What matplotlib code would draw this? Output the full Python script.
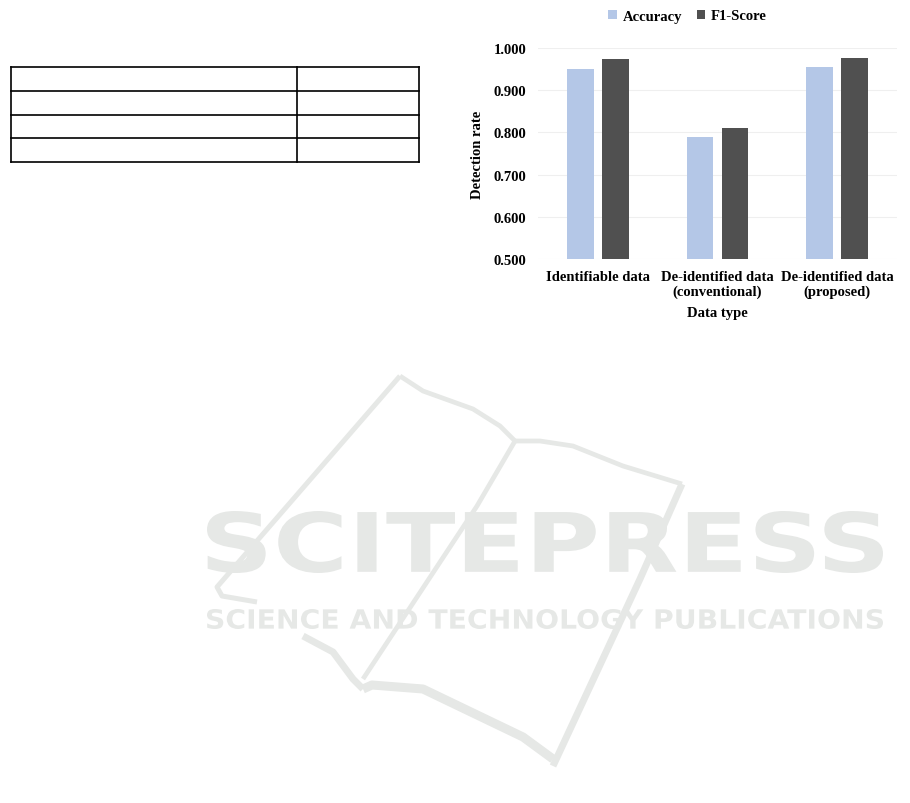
import matplotlib.pyplot as plt
import numpy as np
from matplotlib.textpath import TextPath
from matplotlib.patches import PathPatch
from matplotlib.font_manager import FontProperties
from matplotlib.transforms import Affine2D
import matplotlib.patheffects as pe

categories = ['Identifiable data', 'De-identified data\n(conventional)', 'De-identified data\n(proposed)']
accuracy = [0.950, 0.789, 0.955]
f1_score = [0.975, 0.811, 0.976]
series_names = ['Accuracy', 'F1-Score']
y_ticks = [0.5, 0.6, 0.7, 0.8, 0.9, 1.0]

W, H = 910, 804
plt.rcParams['font.family'] = ['Liberation Serif', 'DejaVu Serif']
plt.rcParams['font.weight'] = 'bold'

fig = plt.figure(figsize=(W / 100, H / 100), dpi=100)

# page layer in pixel coordinates (y down)
page = fig.add_axes([0, 0, 1, 1], zorder=0)
page.set_xlim(0, W)
page.set_ylim(H, 0)
page.axis('off')

# empty table outline on the left
for y in [68.3, 91.7, 115.7, 139.3, 163.3]:
    page.plot([10.7, 419], [y, y], color='black', lw=1.2, solid_capstyle='projecting')
for x in [10.7, 297.3, 419]:
    page.plot([x, x], [68.3, 163.3], color='black', lw=1.2, solid_capstyle='projecting')

# watermark
wm = '#e6e8e6'
book = [
    ([400, 217, 222, 257], [377, 588, 597, 603], 3.6),
    ([400, 423, 473, 500, 515], [377, 392, 410, 427, 442], 3.4),
    ([515, 540, 573, 623, 682], [442, 442, 447, 467, 485], 3.4),
    ([682, 640, 553], [485, 580, 767], 5.0),
    ([515, 477, 363], [442, 507, 680], 3.4),
    ([303, 333, 353, 363], [637, 653, 680, 690], 5.0),
    ([363, 372, 423, 473, 523, 553], [690, 686, 690, 714, 738, 760], 6.5),
]
for xs, ys, lw in book:
    page.plot(xs, ys, color=wm, lw=lw, solid_capstyle='butt', solid_joinstyle='round')


def box_text(s, x0, x1, y0, y1, weight='bold'):
    tp = TextPath((0, 0), s, size=10, prop=FontProperties(family='DejaVu Sans', weight=weight))
    ext = tp.get_extents()
    sx = (x1 - x0) / ext.width
    sy = (y1 - y0) / ext.height
    tr = Affine2D().translate(-ext.x0, -ext.y0).scale(sx, -sy).translate(x0, y1)
    patch = PathPatch(tr.transform_path(tp), facecolor=wm, edgecolor='none')
    patch.set_path_effects([pe.Stroke(linewidth=8, foreground='white'), pe.Normal()])
    page.add_patch(patch)


box_text('SCITEPRESS', 207, 883, 512, 574)
box_text('SCIENCE AND TECHNOLOGY PUBLICATIONS', 207, 883, 610, 630)

# bar chart
ax = fig.add_axes([538 / W, 1 - 260 / H, 359 / W, 211 / H], zorder=2)
ax.patch.set_alpha(0)
x = np.arange(len(categories))
bw = 0.223
off = 0.145
ax.bar(x - off, accuracy, bw, color='#b4c7e7', label=series_names[0], zorder=3)
ax.bar(x + off, f1_score, bw, color='#505050', label=series_names[1], zorder=3)

ax.set_ylim(0.5, 1.0)
ax.set_xlim(-0.5, 2.5)
ax.set_yticks(y_ticks)
ax.set_yticklabels([f'{v:.3f}' for v in y_ticks])
ax.set_xticks(x)
ax.set_xticklabels(categories, linespacing=1.15)
ax.tick_params(length=0, labelsize=10.5, pad=8)
ax.tick_params(axis='y', pad=8.5)
ax.yaxis.grid(True, color='#efefef', lw=0.8, zorder=0)
ax.set_axisbelow(True)
for s in ax.spines.values():
    s.set_visible(False)

ax.set_xlabel('Data type', fontsize=10.5, fontweight='bold', labelpad=6)
ax.set_ylabel('Detection rate', fontsize=10.5, fontweight='bold', labelpad=7)

fig.legend(loc='center', bbox_to_anchor=(687.5 / W, 1 - 17 / H), ncol=2, frameon=False,
           fontsize=10.5, handlelength=0.6, handleheight=0.6, handletextpad=0.4,
           columnspacing=1.0)

fig.savefig('out.png', dpi=100)
